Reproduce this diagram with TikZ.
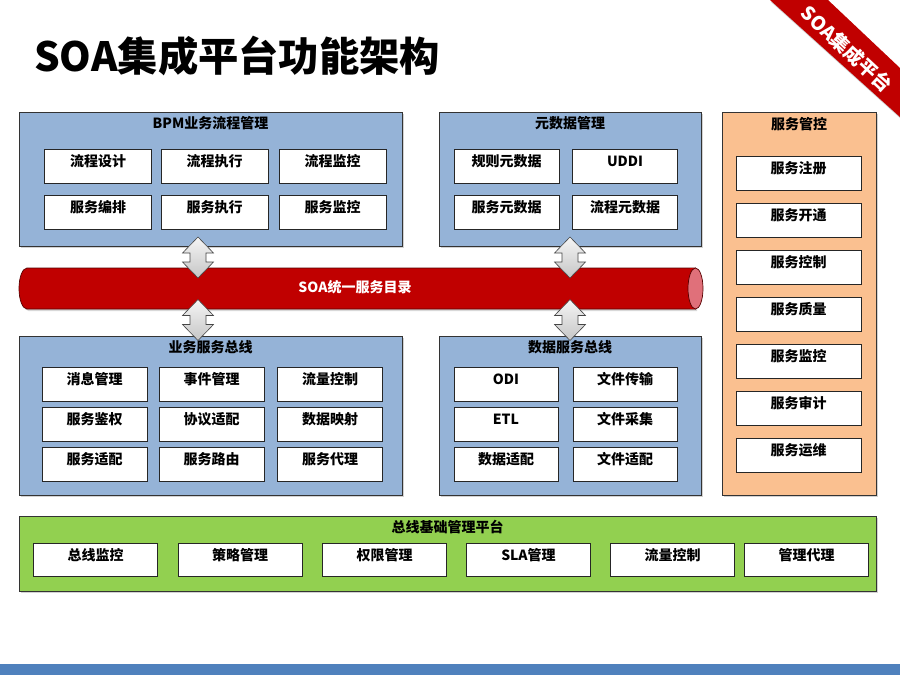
\documentclass[tikz,border=0pt]{standalone}
\usepackage{fontspec}
\setmainfont{Noto Sans CJK SC}
\usetikzlibrary{positioning,shadows}
\definecolor{panelblue}{HTML}{95B3D7}
\definecolor{panelorange}{HTML}{FAC090}
\definecolor{panelgreen}{HTML}{92D050}
\definecolor{busred}{HTML}{C00000}
\definecolor{buscap}{HTML}{E0707A}
\definecolor{footblue}{HTML}{4F81BD}
\tikzset{
  panel/.style={draw=black!80, line width=0.8pt, inner sep=0pt,
    drop shadow={shadow xshift=2pt, shadow yshift=-2pt, opacity=0.35}},
  paneltitle/.style={font=\bfseries\fontsize{14}{16}\selectfont, inner sep=0pt},
  item/.style={draw=black!85, fill=white, line width=0.6pt, minimum height=34pt,
    text height=10pt, text depth=9pt,
    font=\bfseries\fontsize{14}{16}\selectfont, inner sep=0pt},
  updown/.pic={
    \draw[gray!55!black, line width=0.6pt, top color=gray!8, bottom color=gray!45]
      (0,-20.5) -- (15.5,-4.5) -- (8,-4.5) -- (8,4.5) -- (15.5,4.5) -- (0,20.5)
      -- (-15.5,4.5) -- (-8,4.5) -- (-8,-4.5) -- (-15.5,-4.5) -- cycle;
  }
}
\begin{document}
\begin{tikzpicture}[x=1pt, y=-1pt]
  \useasboundingbox (0,0) rectangle (900,675);
  \fill[white] (0,0) rectangle (900,675);
  % title and corner ribbon
  \node[anchor=west, inner sep=0pt, font=\bfseries\fontsize{40.3}{46}\selectfont] (title) at (34,56) {SOA集成平台功能架构};
  \fill[busred, drop shadow={shadow xshift=1pt, shadow yshift=-2pt, opacity=0.4}] (770,0) -- (828,0) -- (900,68) -- (900,117) -- cycle;
  \node[rotate=-43, text=white, inner sep=0pt, font=\bfseries\fontsize{19}{20}\selectfont] (ribbon) at (847,49) {SOA集成平台};
  % footer
  \fill[footblue] (0,664) rectangle (900,675);

  % upper panels
  \node[panel, fill=panelblue, minimum width=383pt, minimum height=134pt] (bpm) at (210.5,179) {};
  \node[paneltitle] (bpmtitle) at ([yshift=-12pt]bpm.north) {BPM业务流程管理};
  \node[panel, fill=panelblue, minimum width=262pt, minimum height=134pt] (meta) at (570,179) {};
  \node[paneltitle] (metatitle) at ([yshift=-12pt]meta.north) {元数据管理};
  \node[panel, fill=panelorange, minimum width=154pt, minimum height=383pt] (ctrl) at (799,303.5) {};
  \node[paneltitle] (ctrltitle) at ([yshift=-13pt]ctrl.north) {服务管控};

  % lower panels
  \node[panel, fill=panelblue, minimum width=383pt, minimum height=159pt] (svcbus) at (210.5,415.5) {};
  \node[paneltitle] (svcbustitle) at ([yshift=-12pt]svcbus.north) {业务服务总线};
  \node[panel, fill=panelblue, minimum width=262pt, minimum height=159pt] (databus) at (570,415.5) {};
  \node[paneltitle] (databustitle) at ([yshift=-12pt]databus.north) {数据服务总线};
  \node[panel, fill=panelgreen, minimum width=857pt, minimum height=75pt] (base) at (447.5,553.5) {};
  \node[paneltitle] (basetitle) at ([yshift=-11pt]base.north) {总线基础管理平台};

  % BPM items
  \node[item, minimum width=107pt] (bpm11) at (98,166) {流程设计};
  \node[item, minimum width=107pt] (bpm12) at (214.5,166) {流程执行};
  \node[item, minimum width=107pt] (bpm13) at (332.5,166) {流程监控};
  \node[item, minimum width=107pt] (bpm21) at (98,212) {服务编排};
  \node[item, minimum width=107pt] (bpm22) at (214.5,212) {服务执行};
  \node[item, minimum width=107pt] (bpm23) at (332.5,212) {服务监控};

  % metadata items
  \node[item, minimum width=105pt] (meta11) at (506.5,166) {规则元数据};
  \node[item, minimum width=105pt] (meta12) at (625,166) {UDDI};
  \node[item, minimum width=105pt] (meta21) at (506.5,212) {服务元数据};
  \node[item, minimum width=105pt] (meta22) at (625,212) {流程元数据};

  % service control items
  \foreach \txt [count=\i] in {服务注册,服务开通,服务控制,服务质量,服务监控,服务审计,服务运维}
    \node[item, minimum width=125pt] (ctrl\i) at (798.5,{126+47*\i}) {\txt};

  % service bus items
  \node[item, minimum width=105pt] (svc11) at (94.5,384) {消息管理};
  \node[item, minimum width=105pt] (svc12) at (211.5,384) {事件管理};
  \node[item, minimum width=105pt] (svc13) at (330,384) {流量控制};
  \node[item, minimum width=105pt] (svc21) at (94.5,424) {服务鉴权};
  \node[item, minimum width=105pt] (svc22) at (211.5,424) {协议适配};
  \node[item, minimum width=105pt] (svc23) at (330,424) {数据映射};
  \node[item, minimum width=105pt] (svc31) at (94.5,464) {服务适配};
  \node[item, minimum width=105pt] (svc32) at (211.5,464) {服务路由};
  \node[item, minimum width=105pt] (svc33) at (330,464) {服务代理};

  % data bus items
  \node[item, minimum width=104pt] (data11) at (506,384) {ODI};
  \node[item, minimum width=104pt] (data12) at (625,384) {文件传输};
  \node[item, minimum width=104pt] (data21) at (506,424) {ETL};
  \node[item, minimum width=104pt] (data22) at (625,424) {文件采集};
  \node[item, minimum width=104pt] (data31) at (506,464) {数据适配};
  \node[item, minimum width=104pt] (data32) at (625,464) {文件适配};

  % base platform items
  \foreach \txt/\cx [count=\i] in {总线监控/95.5,策略管理/240,权限管理/384.5,SLA管理/528.5,流量控制/672.5,管理代理/806.5}
    \node[item, minimum width=124pt, minimum height=33pt] (base\i) at (\cx,559.5) {\txt};

  % service catalog pipe
  \draw[busred!45!black, fill=busred, line width=0.7pt, drop shadow={shadow xshift=1.5pt, shadow yshift=-2pt, opacity=0.3}]
    (695.5,268) -- (27,268) arc[start angle=270, end angle=90, x radius=8, y radius=20.5] -- (695.5,309) -- cycle;
  \fill[busred] (690,268.4) rectangle (695.5,308.6);
  \draw[busred!45!black, fill=buscap, line width=0.7pt] (695.5,288.5) ellipse[x radius=7.5, y radius=20.5];
  \node[text=white, inner sep=0pt, font=\bfseries\fontsize{14}{16}\selectfont] (catalog) at (355,287) {SOA统一服务目录};

  % double arrows between panels and pipe
  \pic at (198,257.5) {updown};
  \pic at (198,320) {updown};
  \pic at (570,257.5) {updown};
  \pic at (570,320) {updown};
\end{tikzpicture}
\end{document}
